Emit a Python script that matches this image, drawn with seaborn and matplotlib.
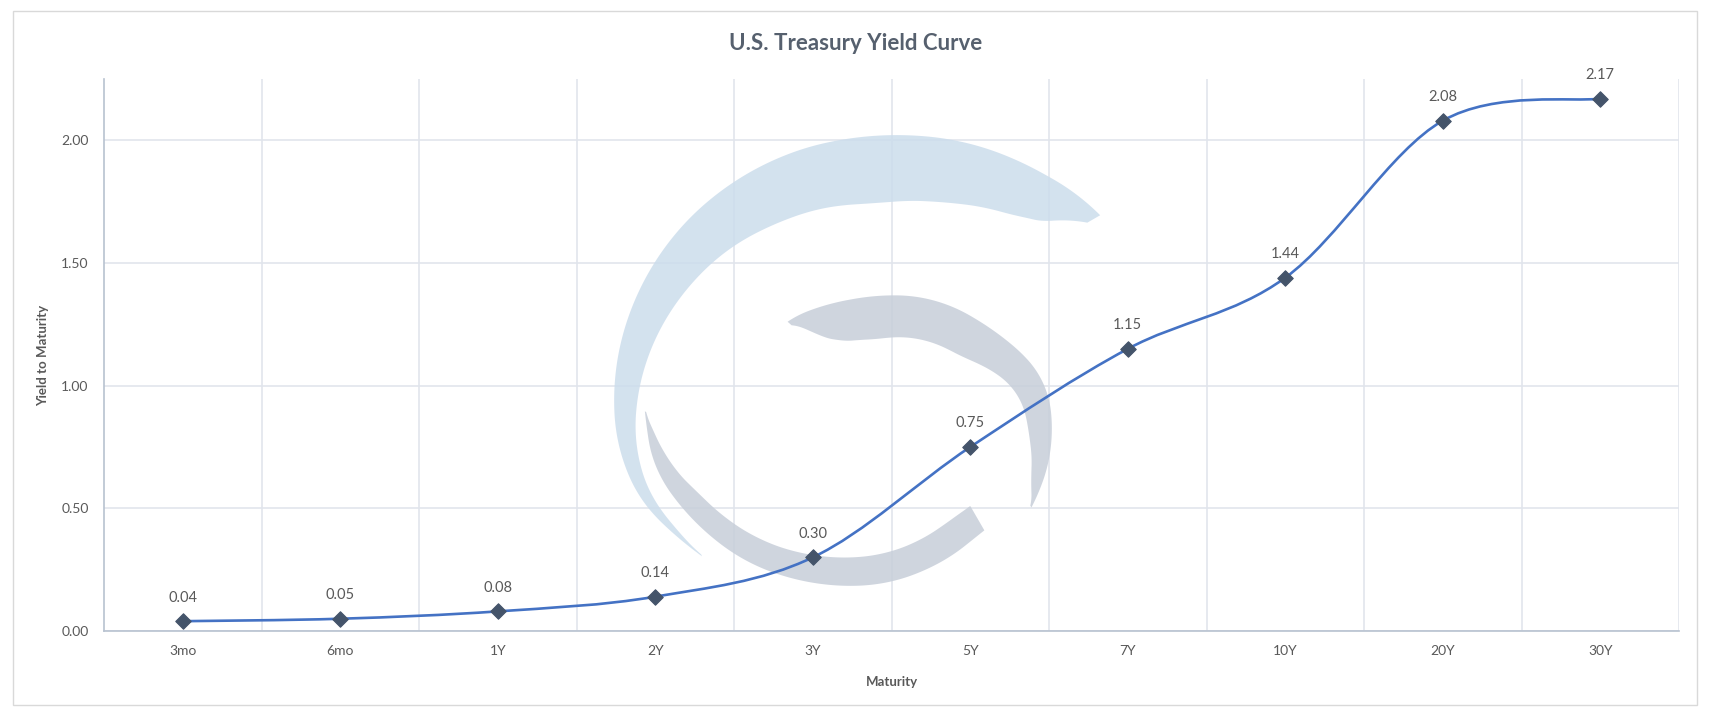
import numpy as np
import pandas as pd
import matplotlib
matplotlib.use('Agg')
import matplotlib.pyplot as plt
import seaborn as sns
from matplotlib.path import Path
from matplotlib.patches import PathPatch, Polygon, Rectangle

# ------------------------------------------------------------
# Data
# ------------------------------------------------------------
maturities = ['3mo', '6mo', '1Y', '2Y', '3Y', '5Y', '7Y', '10Y', '20Y', '30Y']
yields = [0.04, 0.05, 0.08, 0.14, 0.30, 0.75, 1.15, 1.44, 2.08, 2.17]
y_ticks = [0.0, 0.5, 1.0, 1.5, 2.0]

TITLE = 'U.S. Treasury Yield Curve'
X_LABEL = 'Maturity'
Y_LABEL = 'Yield to Maturity'

W, H, DPI = 1712, 716, 100
LINE_COLOR = '#4472C4'
MARKER_COLOR = '#44546A'
TEXT_COLOR = '#595959'
GRID_COLOR = '#E1E5EC'

sns.set_theme(style='white')
plt.rcParams['font.family'] = ['Lato', 'DejaVu Sans']

df = pd.DataFrame({'maturity': maturities, 'yield': yields})

fig = plt.figure(figsize=(W / DPI, H / DPI), dpi=DPI)
ax = fig.add_axes([104 / W, 1 - 631 / H, 1575 / W, 552 / H])


# ------------------------------------------------------------
# Background watermark (decorative logo, in figure pixels)
# ------------------------------------------------------------
def smooth(v, k=25):
    pad = np.pad(v, k, mode='edge')
    return np.convolve(pad, np.ones(2 * k + 1) / (2 * k + 1), mode='same')[k:-k]


def crescent(cx, cy, angles, r_out, thick, color):
    th = np.linspace(angles[0], angles[-1], 400)
    ro = smooth(np.interp(th, angles, r_out))
    tk = smooth(np.interp(th, angles, thick), 12)
    tk[0], tk[-1] = thick[0], thick[-1]
    rad = np.radians(th)
    ox, oy = cx + ro * np.cos(rad), cy - ro * np.sin(rad)
    ix, iy = cx + (ro - tk) * np.cos(rad), cy - (ro - tk) * np.sin(rad)
    px = np.concatenate([ox, ix[::-1]]) / W
    py = 1 - np.concatenate([oy, iy[::-1]]) / H
    poly = Polygon(np.column_stack([px, py]), closed=True, transform=fig.transFigure,
                   facecolor=color, edgecolor='none', alpha=0.85, zorder=1)
    ax.add_patch(poly)


crescent(875, 395, [38.6, 42, 50, 70, 90, 120, 150, 180, 196, 210, 223],
         [292, 286, 279, 268, 258, 255, 257, 261, 262, 252, 232],
         [0, 35, 50, 64, 68, 58, 42, 24, 15, 8, 0], '#CCDDEC')
crescent(880, 440, [-24, -15, 2, 19, 45, 93, 110, 120, 128],
         [165, 168, 172, 175, 156, 143, 144, 148, 151],
         [0, 12, 23, 29, 40, 43, 40, 30, 0], '#C7CED9')
crescent(886, 360, [192, 200, 205, 215, 235, 270, 290, 300],
         [245, 252, 255, 252, 245, 223, 205, 195],
         [0, 10, 15, 22, 26, 30, 31, 28], '#C7CED9')

# ------------------------------------------------------------
# Markers and smoothed line (Excel-style Bezier smoothing)
# ------------------------------------------------------------
sns.scatterplot(data=df, x='maturity', y='yield', marker='D', s=62,
                color=MARKER_COLOR, edgecolor=MARKER_COLOR, linewidth=0.8,
                zorder=4, ax=ax, legend=False)

xs = np.arange(len(maturities), dtype=float)
ys = np.array(yields)
pts = np.column_stack([xs, ys])
verts = [pts[0]]
codes = [Path.MOVETO]
n = len(pts)
for i in range(n - 1):
    p_prev = pts[max(i - 1, 0)]
    p0, p1 = pts[i], pts[i + 1]
    p_next = pts[min(i + 2, n - 1)]
    c1 = p0 + (p1 - p_prev) / 6.0
    c2 = p1 - (p_next - p0) / 6.0
    verts += [c1, c2, p1]
    codes += [Path.CURVE4] * 3
ax.add_patch(PathPatch(Path(verts, codes), fill=False, edgecolor=LINE_COLOR,
                       lw=1.9, zorder=3, capstyle='round'))

# data labels
for xi, yi in zip(xs, ys):
    ax.annotate(f'{yi:.2f}', (xi, yi), xytext=(0, 17), textcoords='offset points',
                ha='center', va='center', fontsize=10.5, color=TEXT_COLOR, zorder=5)

# ------------------------------------------------------------
# Axes styling
# ------------------------------------------------------------
ax.set_xlim(-0.5, len(maturities) - 0.5)
ax.set_ylim(0, 2.25)
ax.set_yticks(y_ticks)
ax.set_yticklabels([f'{v:.2f}' for v in y_ticks])
ax.set_xticks(xs)
ax.set_xticklabels(maturities)
ax.set_xticks(np.arange(len(maturities)) + 0.5, minor=True)

ax.grid(False)
ax.yaxis.grid(True, which='major', color=GRID_COLOR, lw=1.2, zorder=0)
ax.xaxis.grid(True, which='minor', color=GRID_COLOR, lw=1.2, zorder=0)
ax.set_axisbelow(True)

ax.tick_params(axis='both', which='both', length=0, labelsize=10, labelcolor=TEXT_COLOR)
ax.tick_params(axis='y', pad=11)
ax.tick_params(axis='x', pad=10)

for side in ['top', 'right']:
    ax.spines[side].set_visible(False)
for side in ['left', 'bottom']:
    ax.spines[side].set_color('#B8C2D0')
    ax.spines[side].set_linewidth(1.2)
    ax.spines[side].set_zorder(2)

ax.set_xlabel(X_LABEL, fontsize=9.5, fontweight='bold', color=TEXT_COLOR)
ax.set_ylabel(Y_LABEL, fontsize=9.5, fontweight='bold', color=TEXT_COLOR)
ax.xaxis.set_label_coords(0.5, -0.0815)
ax.yaxis.set_label_coords(-0.035, 0.5)

fig.text(0.5, 1 - 44 / H, TITLE, ha='center', va='center', fontsize=16,
         fontweight='bold', color='#56606E')

# outer chart border
fig.patches.append(Rectangle((13 / W, 1 - 705 / H), 1684 / W, 694 / H,
                             transform=fig.transFigure, fill=False,
                             edgecolor='#D9D9D9', lw=1.0))

fig.savefig('out.png', dpi=DPI)
